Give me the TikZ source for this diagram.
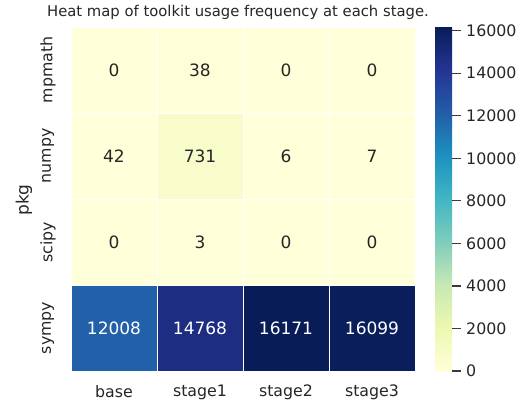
\documentclass[tikz,border=0pt]{standalone}
\usepackage{fontspec}
\setmainfont{DejaVu Sans}
\definecolor{txt}{HTML}{262626}
\definecolor{tickc}{HTML}{3A3A3A}
\definecolor{c0}{HTML}{FFFFD9}
\definecolor{c1}{HTML}{EDF8B1}
\definecolor{c2}{HTML}{C7E9B4}
\definecolor{c3}{HTML}{7FCDBB}
\definecolor{c4}{HTML}{41B6C4}
\definecolor{c5}{HTML}{1D91C0}
\definecolor{c6}{HTML}{225EA8}
\definecolor{c7}{HTML}{253494}
\definecolor{c8}{HTML}{081D58}
\definecolor{v38}{RGB}{254,255,217}
\definecolor{v731}{RGB}{248,252,203}
\definecolor{v12008}{RGB}{34,97,169}
\definecolor{v14768}{RGB}{28,45,130}
\definecolor{v16171}{RGB}{8,29,88}
\definecolor{v16099}{RGB}{9,30,90}
\pgfdeclareverticalshading{ylgnbu}{100bp}{color(0bp)=(c0); color(25bp)=(c0); color(31.25bp)=(c1); color(37.5bp)=(c2); color(43.75bp)=(c3); color(50bp)=(c4); color(56.25bp)=(c5); color(62.5bp)=(c6); color(68.75bp)=(c7); color(75bp)=(c8); color(100bp)=(c8)}
\tikzset{
  cell/.style={draw=white, line width=1pt, minimum width=86pt, minimum height=86pt, inner sep=0pt, font=\fontsize{17}{20}\selectfont, text=txt},
  darkcell/.style={cell, text=white},
  ticklab/.style={font=\fontsize{15.8}{18}\selectfont, text=txt, inner sep=0pt},
  cbtick/.style={draw=tickc, line width=1.2pt},
}
\begin{document}
\begin{tikzpicture}[x=1pt,y=-1pt]
\useasboundingbox (0,0) rectangle (527,408);
\fill[white] (0,0) rectangle (527,408);
% title
\node[font=\fontsize{14.8}{17}\selectfont, text=txt, inner sep=0pt] (title) at (238,12) {Heat map of toolkit usage frequency at each stage.};
% cells row mpmath
\node[cell, fill=c0] (m1) at (114,70) {0};
\node[cell, fill=v38] (m2) at (200,70) {38};
\node[cell, fill=c0] (m3) at (286,70) {0};
\node[cell, fill=c0] (m4) at (372,70) {0};
% numpy
\node[cell, fill=c0] (n1) at (114,156) {42};
\node[cell, fill=v731] (n2) at (200,156) {731};
\node[cell, fill=c0] (n3) at (286,156) {6};
\node[cell, fill=c0] (n4) at (372,156) {7};
% scipy
\node[cell, fill=c0] (s1) at (114,242) {0};
\node[cell, fill=c0] (s2) at (200,242) {3};
\node[cell, fill=c0] (s3) at (286,242) {0};
\node[cell, fill=c0] (s4) at (372,242) {0};
% sympy
\node[darkcell, fill=v12008] (y1) at (114,328) {12008};
\node[darkcell, fill=v14768] (y2) at (200,328) {14768};
\node[darkcell, fill=v16171] (y3) at (286,328) {16171};
\node[darkcell, fill=v16099] (y4) at (372,328) {16099};
% y tick labels
\node[ticklab, rotate=90] (l1) at (48,70) {mpmath};
\node[ticklab, rotate=90] (l2) at (48,156) {numpy};
\node[ticklab, rotate=90] (l3) at (48,242) {scipy};
\node[ticklab, rotate=90] (l4) at (48,328) {sympy};
\node[font=\fontsize{17}{20}\selectfont, text=txt, rotate=90, inner sep=0pt] (pkg) at (24,200) {pkg};
% x tick labels
\node[ticklab] (b1) at (114,392) {base};
\node[ticklab] (b2) at (200,392) {stage1};
\node[ticklab] (b3) at (286,392) {stage2};
\node[ticklab] (b4) at (372,392) {stage3};
% colorbar
\shade[shading=ylgnbu] (435,27) rectangle (452,371);
\foreach \v/\lab in {0/0,2000/2000,4000/4000,6000/6000,8000/8000,10000/10000,12000/12000,14000/14000,16000/16000}{
  \pgfmathsetmacro{\yy}{371-\v/16171*344}
  \draw[cbtick] (452,\yy) -- (461,\yy);
  \node[ticklab, anchor=west] at (466,\yy) {\lab};
}
\end{tikzpicture}
\end{document}
